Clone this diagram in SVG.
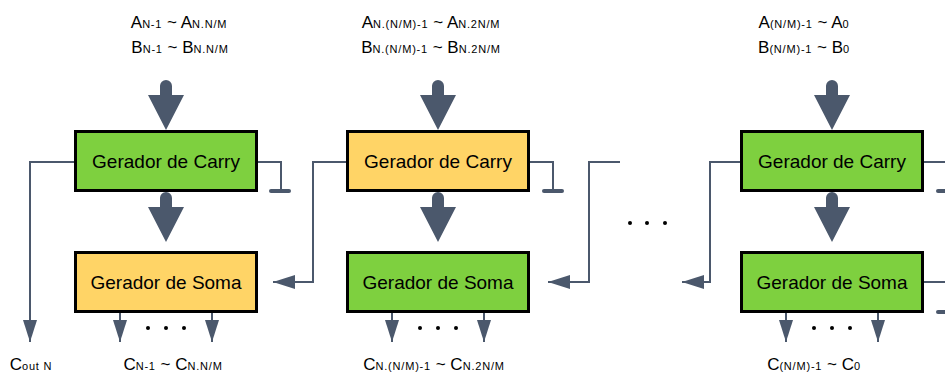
<svg xmlns="http://www.w3.org/2000/svg" width="945" height="376" viewBox="0 0 945 376">
  <style>
    .box { stroke: #000; stroke-width: 3; }
    .green { fill: #7ED03F; }
    .gold { fill: #FFD466; }
    .label { font-family: "Liberation Sans", Arial, sans-serif; font-size: 19px; fill: #000; text-anchor: middle; }
    .io { font-family: "Liberation Sans", Arial, sans-serif; font-size: 17px; fill: #000; text-anchor: middle; }
    .sub { font-size: 11px; letter-spacing: 0.8px; }
    .wire { fill: none; stroke: #4B586C; stroke-width: 2; }
    .gnd { stroke: #4B586C; stroke-width: 4; stroke-linecap: round; }
    .dot { fill: #000; }
    .big { fill: #4B586C; }
  </style>
  <defs>
    <!-- thick bus arrow: rounded tail at 0, head from 15 to tip at 50 -->
    <path id="bus" d="M -6 15 L -6 6 A 6 6 0 0 1 6 6 L 6 15 L 18 15 L 0 50 L -18 15 Z"/>
    <marker id="tip" markerUnits="userSpaceOnUse" markerWidth="22" markerHeight="14" viewBox="0 0 22 14" refX="22" refY="7" orient="auto">
      <path d="M 0 0 L 22 7 L 0 14 Z" fill="#4B586C"/>
    </marker>
  </defs>

  <!-- input / output labels -->
  <g id="labels">
    <text class="io" x="179" y="28">A<tspan class="sub">N-1</tspan> ~ A<tspan class="sub">N.N/M</tspan></text>
    <text class="io" x="180" y="53">B<tspan class="sub">N-1</tspan> ~ B<tspan class="sub">N.N/M</tspan></text>
    <text class="io" x="431" y="28">A<tspan class="sub">N.(N/M)-1</tspan> ~ A<tspan class="sub">N.2N/M</tspan></text>
    <text class="io" x="431" y="53">B<tspan class="sub">N.(N/M)-1</tspan> ~ B<tspan class="sub">N.2N/M</tspan></text>
    <text class="io" x="804" y="28">A<tspan class="sub">(N/M)-1</tspan> ~ A<tspan class="sub">0</tspan></text>
    <text class="io" x="804" y="53">B<tspan class="sub">(N/M)-1</tspan> ~ B<tspan class="sub">0</tspan></text>
    <text class="io" x="31" y="370">C<tspan class="sub">out N</tspan></text>
    <text class="io" x="173" y="370">C<tspan class="sub">N-1</tspan> ~ C<tspan class="sub">N.N/M</tspan></text>
    <text class="io" x="434" y="370">C<tspan class="sub">N.(N/M)-1</tspan> ~ C<tspan class="sub">N.2N/M</tspan></text>
    <text class="io" x="814" y="370">C<tspan class="sub">(N/M)-1</tspan> ~ C<tspan class="sub">0</tspan></text>
  </g>

  <!-- connectors -->
  <g id="connectors">
    <!-- operand buses into the carry generators -->
    <use href="#bus" class="big" x="166" y="80"/>
    <use href="#bus" class="big" x="438" y="80"/>
    <use href="#bus" class="big" x="832" y="80"/>
    <!-- carry to sum buses -->
    <use href="#bus" class="big" x="166" y="192"/>
    <use href="#bus" class="big" x="438" y="192"/>
    <use href="#bus" class="big" x="832" y="192"/>

    <!-- carry out of block 1 -->
    <polyline class="wire" points="75,162 30,162 30,342" marker-end="url(#tip)"/>
    <!-- grounded carry inputs -->
    <polyline class="wire" points="257,162 281,162 281,190"/>
    <line class="gnd" x1="271" y1="191" x2="289" y2="191"/>
    <polyline class="wire" points="529,162 553,162 553,190"/>
    <line class="gnd" x1="544" y1="191" x2="562" y2="191"/>
    <line class="wire" x1="923" y1="162" x2="945" y2="162"/>
    <line class="gnd" x1="938" y1="191" x2="960" y2="191"/>
    <line class="wire" x1="923" y1="282" x2="945" y2="282"/>
    <line class="gnd" x1="938" y1="312" x2="960" y2="312"/>

    <!-- carry from block 2 into sum of block 1 -->
    <polyline class="wire" points="347,162 313,162 313,282 273,282" marker-end="url(#tip)"/>
    <!-- carry from the next block into sum of block 2 -->
    <polyline class="wire" points="620,162 589,162 589,282 548,282" marker-end="url(#tip)"/>
    <!-- carry from block 3 towards the previous block -->
    <polyline class="wire" points="740,162 710,162 710,282 682,282" marker-end="url(#tip)"/>

    <!-- sum outputs -->
    <line class="wire" x1="120" y1="312" x2="120" y2="342" marker-end="url(#tip)"/>
    <line class="wire" x1="212" y1="312" x2="212" y2="342" marker-end="url(#tip)"/>
    <line class="wire" x1="392" y1="312" x2="392" y2="342" marker-end="url(#tip)"/>
    <line class="wire" x1="484" y1="312" x2="484" y2="342" marker-end="url(#tip)"/>
    <line class="wire" x1="786" y1="312" x2="786" y2="342" marker-end="url(#tip)"/>
    <line class="wire" x1="878" y1="312" x2="878" y2="342" marker-end="url(#tip)"/>
  </g>

  <!-- ellipses -->
  <g id="ellipses">
    <circle class="dot" cx="148" cy="328" r="2"/>
    <circle class="dot" cx="166" cy="328" r="2"/>
    <circle class="dot" cx="184" cy="328" r="2"/>
    <circle class="dot" cx="420" cy="328" r="2"/>
    <circle class="dot" cx="438" cy="328" r="2"/>
    <circle class="dot" cx="456" cy="328" r="2"/>
    <circle class="dot" cx="814" cy="328" r="2"/>
    <circle class="dot" cx="832" cy="328" r="2"/>
    <circle class="dot" cx="850" cy="328" r="2"/>
    <circle class="dot" cx="630" cy="223" r="2"/>
    <circle class="dot" cx="647" cy="223" r="2"/>
    <circle class="dot" cx="665" cy="223" r="2"/>
  </g>

  <!-- block 1 -->
  <g id="carry1">
    <rect class="box green" x="75.5" y="131.5" width="181" height="59"/>
    <text class="label" x="166" y="168">Gerador de Carry</text>
  </g>
  <g id="soma1">
    <rect class="box gold" x="75.5" y="252.5" width="181" height="59"/>
    <text class="label" x="166" y="289">Gerador de Soma</text>
  </g>

  <!-- block 2 -->
  <g id="carry2">
    <rect class="box gold" x="347.5" y="131.5" width="181" height="59"/>
    <text class="label" x="438" y="168">Gerador de Carry</text>
  </g>
  <g id="soma2">
    <rect class="box green" x="347.5" y="252.5" width="181" height="59"/>
    <text class="label" x="438" y="289">Gerador de Soma</text>
  </g>

  <!-- block 3 -->
  <g id="carry3">
    <rect class="box green" x="741.5" y="131.5" width="181" height="59"/>
    <text class="label" x="832" y="168">Gerador de Carry</text>
  </g>
  <g id="soma3">
    <rect class="box green" x="741.5" y="252.5" width="181" height="59"/>
    <text class="label" x="832" y="289">Gerador de Soma</text>
  </g>
</svg>
